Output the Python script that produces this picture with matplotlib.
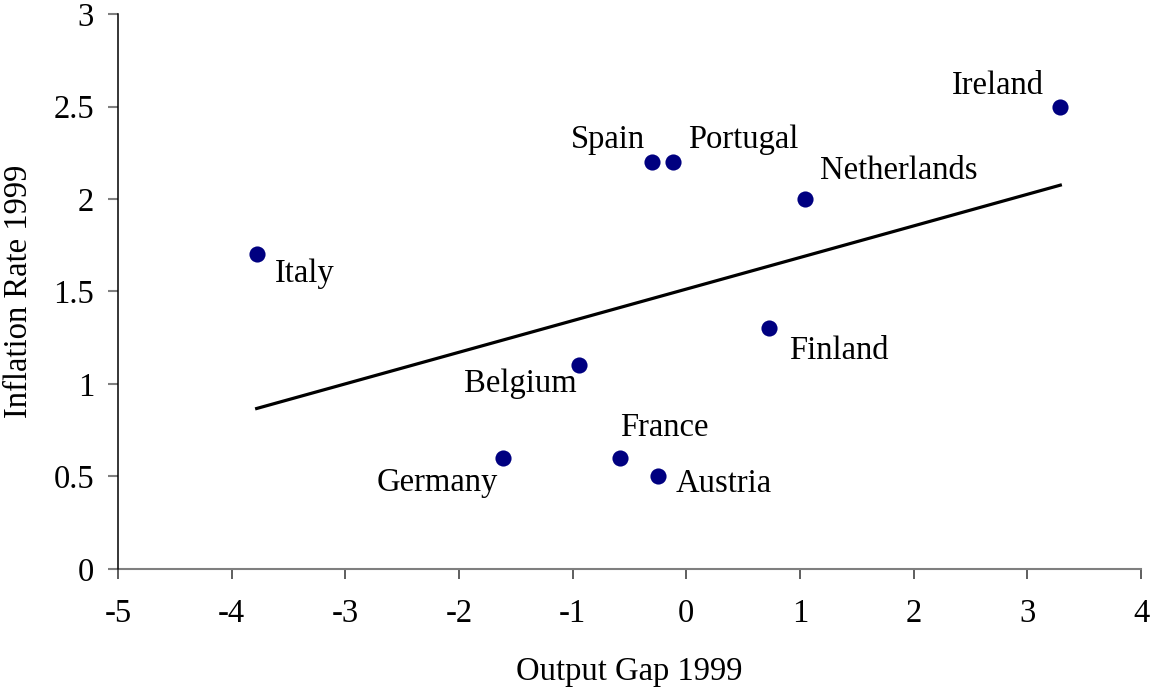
import numpy as np
import matplotlib
matplotlib.use("Agg")
import matplotlib.pyplot as plt

countries = ["Italy", "Ireland", "Spain", "Portugal", "Netherlands",
             "Finland", "Belgium", "France", "Germany", "Austria"]
output_gap = [-3.78, 3.29, -0.30, -0.12, 1.04, 0.73, -0.94, -0.58, -1.61, -0.25]
inflation = [1.7, 2.5, 2.2, 2.2, 2.0, 1.3, 1.1, 0.6, 0.6, 0.5]

# label offsets in points (dx, dy, ha)
label_pos = {
    "Italy": (13, -14, "left"),
    "Ireland": (-12, 15, "right"),
    "Spain": (-5, 16, "right"),
    "Portugal": (11, 16, "left"),
    "Netherlands": (11, 20, "left"),
    "Finland": (14, -16, "left"),
    "Belgium": (-2, -13, "right"),
    "France": (0, 22, "left"),
    "Germany": (-4, -18, "right"),
    "Austria": (13, -5, "left"),
}

plt.rcParams['font.family'] = ['Liberation Serif', 'DejaVu Serif']
plt.rcParams['axes.unicode_minus'] = False
fs = 23.5

fig = plt.figure(figsize=(11.5, 6.9), dpi=100)
ax = fig.add_axes([0.1026, 0.1754, 0.8896, 0.8043])

x = np.array(output_gap)
y = np.array(inflation)
ax.scatter(x, y, s=135, color="#000080", zorder=3, linewidths=0)

slope, intercept = np.polyfit(x, y, 1)
xl = np.array([x.min(), x.max()])
ax.plot(xl, slope * xl + intercept, color="black", lw=2.3, zorder=2)

for c, xi, yi in zip(countries, x, y):
    dx, dy, ha = label_pos[c]
    ax.annotate(c, (xi, yi), xytext=(dx, dy), textcoords="offset points",
                ha=ha, va="center", fontsize=fs)

ax.set_xlim(-5, 4)
ax.set_ylim(0, 3)
ax.set_xticks(range(-5, 5))
ax.set_yticks([0, 0.5, 1, 1.5, 2, 2.5, 3])
ax.set_yticklabels(["0", "0.5", "1", "1.5", "2", "2.5", "3"])
ax.spines["top"].set_visible(False)
ax.spines["right"].set_visible(False)
ax.spines["left"].set_color("black")
ax.spines["left"].set_linewidth(1.1)
ax.spines["bottom"].set_color("#7f7f7f")
ax.spines["bottom"].set_linewidth(1.5)
ax.spines["left"].set_zorder(4)
ax.tick_params(axis="both", direction="out", length=7.2, width=1.1,
               labelsize=fs)
ax.tick_params(axis="x", pad=14, color="#333333")
ax.tick_params(axis="y", pad=10, color="#7f7f7f", width=1.5)
ax.set_xlabel("Output Gap 1999", fontsize=fs, labelpad=20)
ax.set_ylabel("Inflation Rate 1999", fontsize=fs, labelpad=14)

fig.savefig("out.png", dpi=100)
